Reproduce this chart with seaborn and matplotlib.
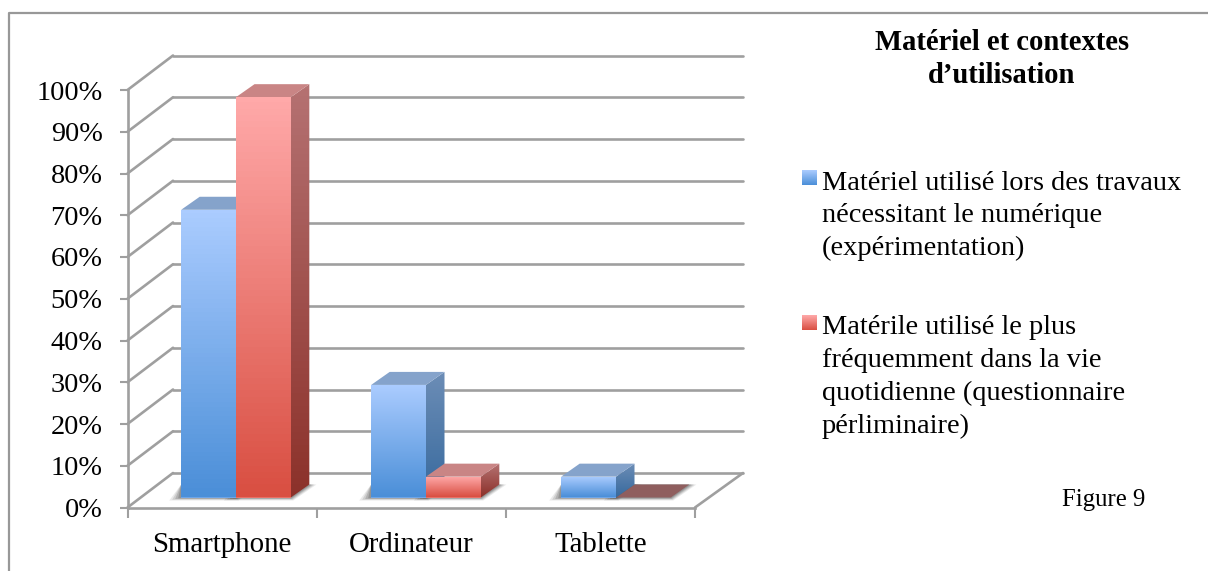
import numpy as np
import pandas as pd
import matplotlib
matplotlib.use('Agg')
import matplotlib.pyplot as plt
from matplotlib.colors import LinearSegmentedColormap
from matplotlib.patches import Polygon, Rectangle
import seaborn as sns

categories = ['Smartphone', 'Ordinateur', 'Tablette']
series_names = ['experimentation', 'quotidien']
experimentation = [69, 27, 5]
quotidien = [96, 5, 0]
y_ticks = list(range(0, 101, 10))
y_labels = [f'{v}%' for v in y_ticks]

title = 'Matériel et contextes\nd’utilisation'
legend_1 = 'Matériel utilisé lors des travaux\nnécessitant le numérique\n(expérimentation)'
legend_2 = 'Matérile utilisé le plus\nfréquemment dans la vie\nquotidienne (questionnaire\npérliminaire)'

W, H = 1208, 571
GRID = '#9f9f9f'

sns.set_theme(style='white')
plt.rcParams['font.family'] = ['Liberation Serif', 'DejaVu Serif']
plt.rcParams['axes.unicode_minus'] = False


def px_axes(fig, left, bottom, width, height, **kw):
    # pixels from the top left corner, like in the reference
    return fig.add_axes([left / W, (H - bottom) / H, width / W, height / H], **kw)


fig = plt.figure(figsize=(W / 100, H / 100), dpi=100, facecolor='white')

# cadre autour du graphique : pas de bord droit ni bas
fig.add_artist(plt.Line2D([9 / W, 9 / W, 1], [0, 1 - 13 / H, 1 - 13 / H],
                          color='#989898', lw=1.6, transform=fig.transFigure))

# plan avant : axes et graduations
ax = px_axes(fig, 127.5, 507.5, 567.5, 417.5)
ax.set_xlim(-0.5, 2.5)
ax.set_ylim(0, 100)
ax.patch.set_alpha(0)
PX_X = 3 / 567.5
PX_Y = 100 / 417.5
wall_dx, wall_dy = 45.5 * PX_X, 34.5 * PX_Y
right_dx = 48 * PX_X

for v in y_ticks:
    ax.plot([-0.5, -0.5 + wall_dx], [v, v + wall_dy], color=GRID, lw=1.9, clip_on=False, zorder=1)
    ax.plot([-0.5 + wall_dx, 2.5 + right_dx], [v + wall_dy, v + wall_dy], color=GRID, lw=1.9,
            clip_on=False, zorder=1)
ax.plot([2.5, 2.5 + right_dx], [0, wall_dy], color=GRID, lw=1.9, clip_on=False, zorder=1)

sns.despine(ax=ax, top=True, right=True)
for side in ['left', 'bottom']:
    ax.spines[side].set_color(GRID)
    ax.spines[side].set_linewidth(1.9)
ax.set_yticks(y_ticks, y_labels)
ax.set_xticks([-0.5, 0.5, 1.5, 2.5], ['', '', '', ''])
ax.set_xticks([0, 1, 2], categories, minor=True)
ax.tick_params(axis='y', length=6, width=1.5, color=GRID, left=True, labelsize=20.3, pad=12, labelcolor='black')
ax.tick_params(axis='x', which='major', length=7, width=1.5, color=GRID, bottom=True)
ax.tick_params(axis='x', which='minor', length=0, labelsize=20.8, pad=18, labelcolor='black')
ax.set_xlabel('')
ax.set_ylabel('')

# plan des barres, un peu en retrait
bx = px_axes(fig, 141, 497.5, 570, 417)
bx.patch.set_alpha(0)

df = pd.DataFrame({
    'categorie': categories * 2,
    'serie': [series_names[0]] * 3 + [series_names[1]] * 3,
    'valeur': experimentation + quotidien,
})
sns.barplot(data=df, x='categorie', y='valeur', hue='serie', hue_order=series_names,
            palette=['#6ea5e8', '#ea6f66'], width=0.577, gap=0, saturation=1,
            legend=False, ax=bx)
bx.set_xlim(-0.5, 2.5)
bx.set_ylim(0, 100)
bx.set_axis_off()

front_cm = [LinearSegmentedColormap.from_list('b', ['#abccff', '#4b8fd8']),
            LinearSegmentedColormap.from_list('r', ['#ffa9a9', '#d94f42'])]
side_cm = [LinearSegmentedColormap.from_list('bs', ['#6c8db6', '#386a9e']),
           LinearSegmentedColormap.from_list('rs', ['#b57272', '#8c312a'])]
top_col = ['#85a3cb', '#c98585']
flat_col = ['#85a3cb', '#8f5e5e']
ramp = np.linspace(0, 1, 64).reshape(-1, 1)
BX_X, BX_Y = 3 / 570, 100 / 417
bar_dx, bar_dy = 18.5 * BX_X, 13 * BX_Y

bars = [p for p in bx.patches if isinstance(p, Rectangle)]
for i, bar in enumerate(bars):
    s = i // 3
    x0, w, h = bar.get_x(), bar.get_width(), bar.get_height()
    x1 = x0 + w
    bar.set_linewidth(0)
    bar.set_edgecolor('none')
    # ombre portée sur le sol
    for grow, alpha in [(12, 0.10), (9, 0.14), (6, 0.18), (3, 0.22)]:
        gx, gy = grow * BX_X, grow * BX_Y
        bx.add_patch(Polygon([(x0 - gx, -gy * 0.25), (x1 + gx * 0.2, -gy * 0.25),
                              (x1 + bar_dx + gx * 0.6, bar_dy), (x0, bar_dy)],
                             closed=True, fc='#303030', ec='none', alpha=alpha, zorder=1, clip_on=False))
    if h == 0:
        bar.set_visible(False)
        bx.add_patch(Polygon([(x0, 0), (x1, 0), (x1 + bar_dx, bar_dy), (x0 + bar_dx, bar_dy)],
                             closed=True, fc=flat_col[s], ec='none', zorder=2, clip_on=False))
        continue
    bar.set_zorder(4 - s)
    # face de droite
    side = Polygon([(x1, 0), (x1 + bar_dx, bar_dy), (x1 + bar_dx, h + bar_dy), (x1, h)],
                   closed=True, transform=bx.transData, fc='none', ec='none')
    bx.add_patch(side)
    im = bx.imshow(ramp, cmap=side_cm[s], aspect='auto', origin='upper',
                   extent=(x1, x1 + bar_dx, 0, h + bar_dy), zorder=3, clip_on=True)
    im.set_clip_path(side)
    # dessus
    bx.add_patch(Polygon([(x0, h), (x1, h), (x1 + bar_dx, h + bar_dy), (x0 + bar_dx, h + bar_dy)],
                         closed=True, fc=top_col[s], ec='none', zorder=3, clip_on=False))
    # face avant en dégradé
    im = bx.imshow(ramp, cmap=front_cm[s], aspect='auto', origin='upper',
                   extent=(x0, x1, 0, h), zorder=5)
    im.set_clip_path(bar)
bx.set_xlim(-0.5, 2.5)
bx.set_ylim(0, 100)

# titre et légende à droite
fig.text(1002 / W, 1 - 59 / H, title, ha='center', va='center', fontsize=20.6,
         fontweight='bold', color='black', linespacing=1.33)
fig.text(822 / W, 1 - 216 / H, legend_1, ha='left', va='center', fontsize=20.4,
         color='black', linespacing=1.4)
fig.text(822 / W, 1 - 377 / H, legend_2, ha='left', va='center', fontsize=20.4,
         color='black', linespacing=1.4)
fig.text(1103.5 / W, 1 - 500 / H, 'Figure 9', ha='center', va='center',
         fontsize=17.8, color='black')

for cm, top in zip(front_cm, [170, 315]):
    sw = px_axes(fig, 802, top + 15, 15, 15)
    sw.imshow(ramp, cmap=cm, aspect='auto')
    sw.set_axis_off()

fig.savefig('out.png', dpi=100, facecolor='white')
